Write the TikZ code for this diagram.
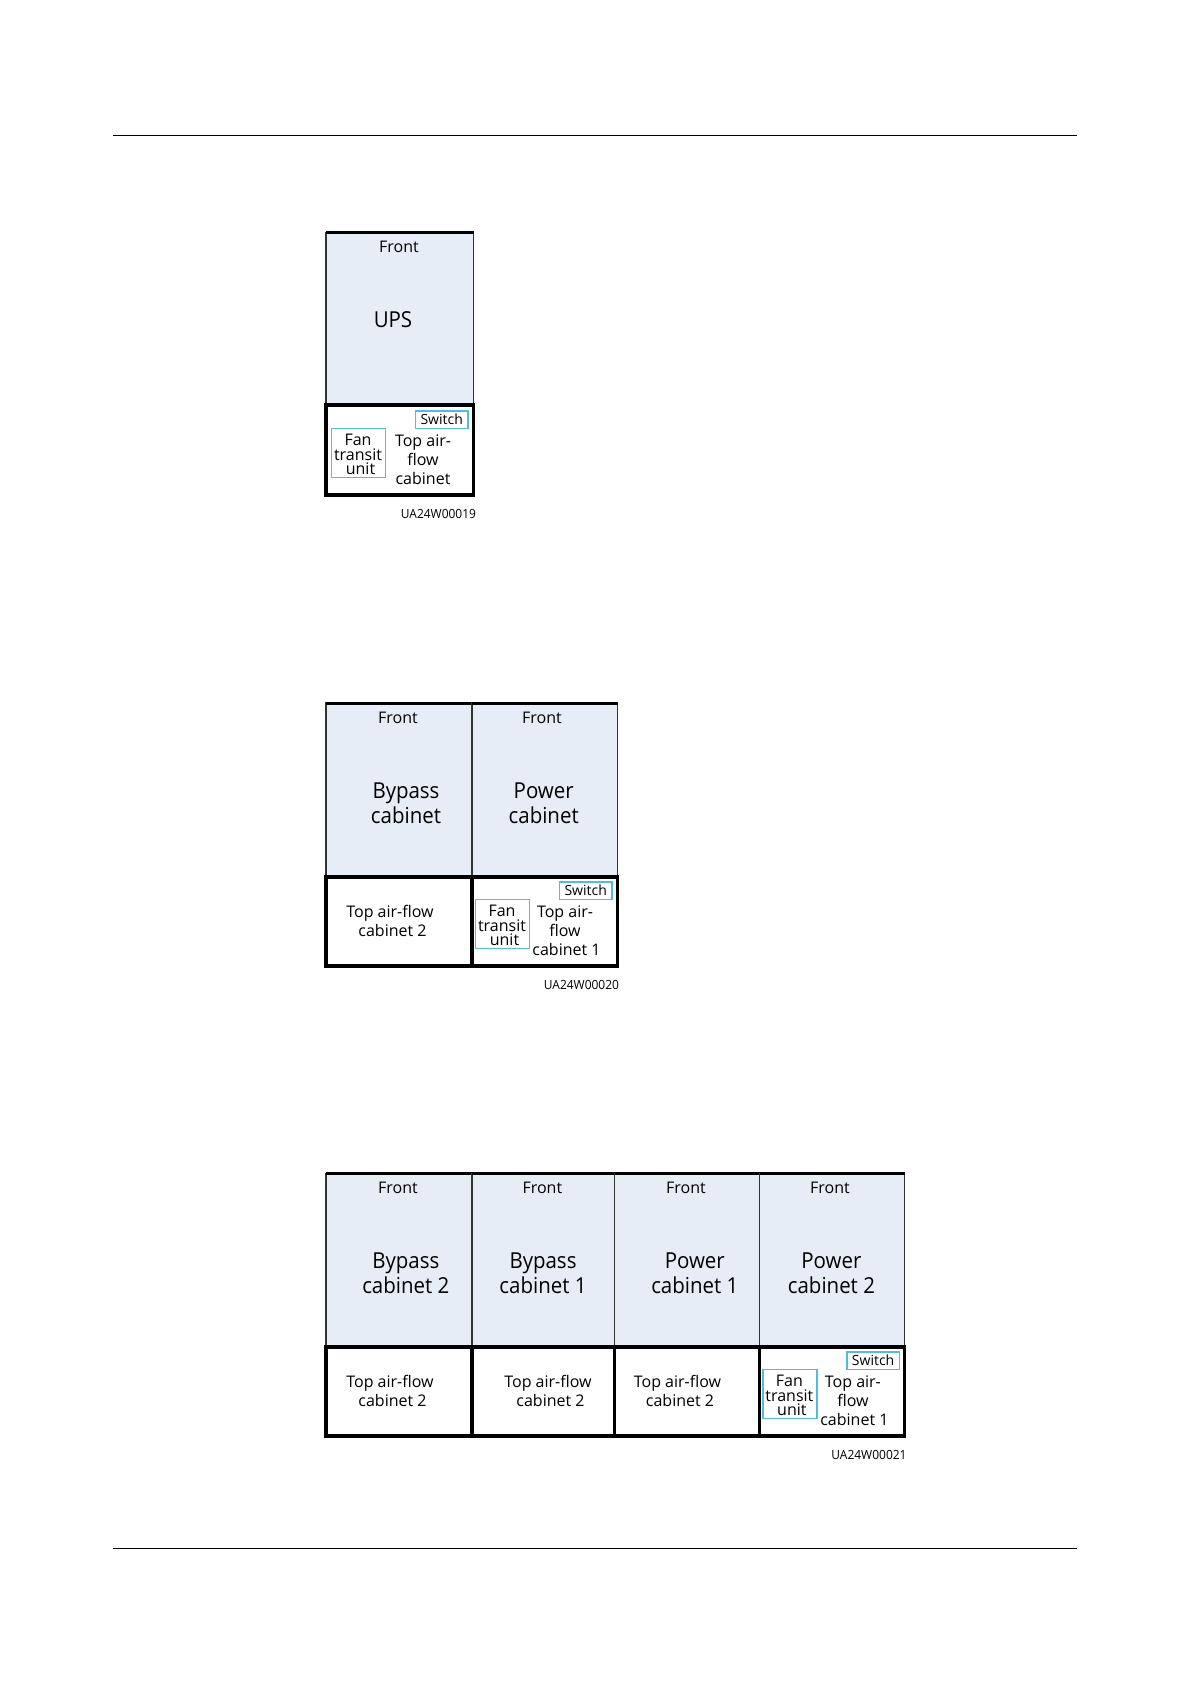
\documentclass[tikz,border=0pt]{standalone}
\usepackage{fontspec}
\setmainfont{Open Sans}
\newfontfamily\bigface[FakeStretch=0.93]{Open Sans}
\newfontfamily\codeface[FakeStretch=0.95]{Open Sans}
\definecolor{panelblue}{HTML}{E6EDF6}
\definecolor{cyanline}{HTML}{55BBDD}
\definecolor{thinline}{HTML}{333333}
\tikzset{
  txt/.style={inner sep=0pt,outer sep=0pt,align=center,text=black},
  front/.style={txt,font=\fontsize{16}{16}\selectfont},
  big/.style={txt,font=\bigface\fontsize{22}{25}\selectfont},
  mid/.style={txt,font=\fontsize{16}{19}\selectfont},
  fan/.style={txt,font=\fontsize{16}{14.5}\selectfont},
  small/.style={txt,font=\fontsize{14}{14}\selectfont},
  code/.style={txt,font=\codeface\fontsize{12.6}{13}\selectfont,anchor=east},
  panel/.style={draw=thinline,line width=1.8pt},
  heavy/.style={draw=black,line width=3.2pt},
  topedge/.style={draw=black,line width=3pt},
  cyanbox/.style={draw=cyanline,line width=1.4pt},
  rule/.style={draw=black,line width=1pt},
}
\newcommand{\upperpanel}[4]{\fill[panelblue] (#1,#3) rectangle (#2,#4);
  \draw[panel] (#1,#3) rectangle (#2,#4);
  \draw[topedge] (#1,#3) -- (#2,#3);}
\newcommand{\lowerpanel}[4]{\draw[heavy] (#1,#3) rectangle (#2,#4);}
\newcommand{\fangroup}[6]{%
  \begin{scope}[shift={(#1,#2)}]
    \draw[cyanbox] (331.7,428.7) rectangle (385.7,477.3);
    \draw[cyanbox] (415.7,411) rectangle (468,428.7);
    \node[fan] (fan#3) at (358,454.5) {Fan\\transit\\\hspace*{5pt}unit};
    \node[small] (sw#3) at (441.7,419.3) {Switch};
    \node[mid] (air#3) at (#4,#5) {#6};
  \end{scope}}
\begin{document}
\begin{tikzpicture}[x=1pt,y=-1pt]
\useasboundingbox (0,0) rectangle (1191,1684);
\fill[white] (0,0) rectangle (1191,1684);
\coordinate (ruleAl) at (113,135.5);
\coordinate (ruleAr) at (1077,135.5);
\coordinate (ruleBl) at (113,1548.5);
\coordinate (ruleBr) at (1077,1548.5);
\draw[rule] (ruleAl) -- (ruleAr);
\draw[rule] (ruleBl) -- (ruleBr);

% Diagram 1
\upperpanel{326}{473.5}{232.5}{405}
\lowerpanel{326}{473.5}{405}{495}
\node[front] (f1) at (399,246.5) {Front};
\node[big] (ups) at (393,320) {UPS};
\fangroup{0}{0}{one}{423}{459.7}{Top air-\\flow\\cabinet}
\node[code] (c1) at (476,514) {UA24W00019};

% Diagram 2
\upperpanel{326}{472}{703}{877}
\upperpanel{472}{617.5}{703}{877}
\lowerpanel{326}{472}{877}{966}
\lowerpanel{472}{617.5}{877}{966}
\node[front] (f2a) at (398,718) {Front};
\node[front] (f2b) at (542,718) {Front};
\node[big] (b2) at (406,803) {Bypass\\cabinet};
\node[big] (p2) at (543.7,803) {Power\\cabinet};
\node[mid] (a2) at (390,921) {Top air-flow\\\hspace*{5pt}cabinet 2};
\fangroup{144}{471}{two}{421}{459.7}{Top air-\\flow\\\hspace*{3pt}cabinet 1}
\node[code] (c2) at (619,985) {UA24W00020};

% Diagram 3
\upperpanel{326}{472}{1173.5}{1347}
\upperpanel{472}{614.5}{1173.5}{1347}
\upperpanel{614.5}{759.5}{1173.5}{1347}
\upperpanel{759.5}{904.5}{1173.5}{1347}
\lowerpanel{326}{472}{1347}{1436}
\lowerpanel{472}{614.5}{1347}{1436}
\lowerpanel{614.5}{759.5}{1347}{1436}
\lowerpanel{759.5}{904.5}{1347}{1436}
\node[front] (f3a) at (398,1188) {Front};
\node[front] (f3b) at (542.4,1188) {Front};
\node[front] (f3c) at (686,1188) {Front};
\node[front] (f3d) at (830,1188) {Front};
\node[big] (b3a) at (405.8,1273) {Bypass\\cabinet 2};
\node[big] (b3b) at (543,1273) {Bypass\\cabinet 1};
\node[big] (p3a) at (694.8,1273) {Power\\cabinet 1};
\node[big] (p3b) at (831.4,1273) {Power\\cabinet 2};
\node[mid] (a3a) at (390,1391) {Top air-flow\\\hspace*{5pt}cabinet 2};
\node[mid] (a3b) at (548,1391) {Top air-flow\\\hspace*{5pt}cabinet 2};
\node[mid] (a3c) at (677.5,1391) {Top air-flow\\\hspace*{5pt}cabinet 2};
\fangroup{431.4}{941}{three}{421.5}{459.7}{Top air-\\flow\\\hspace*{3pt}cabinet 1}
\node[code] (c3) at (906.5,1455) {UA24W00021};
\end{tikzpicture}
\end{document}
